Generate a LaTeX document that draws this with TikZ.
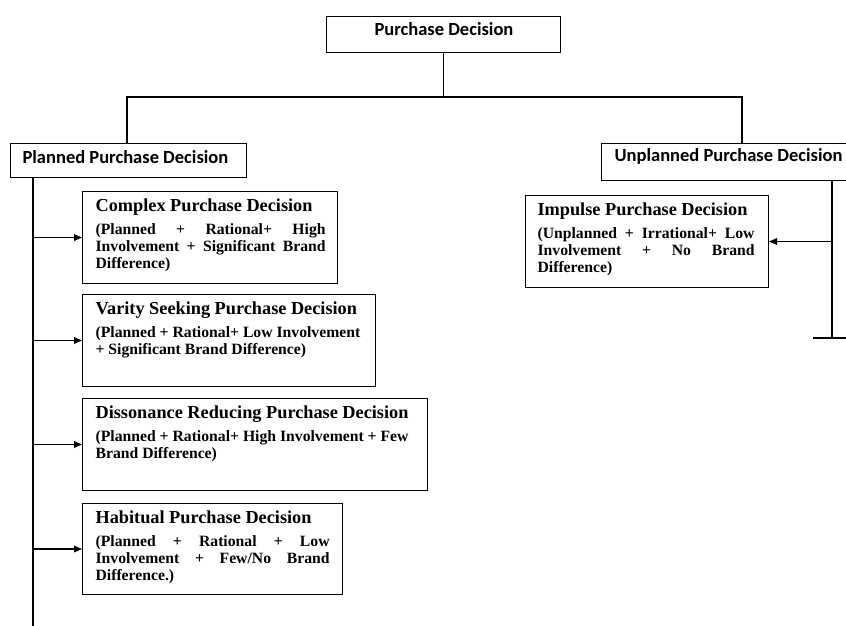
\documentclass[tikz,border=0pt]{standalone}
\usepackage{fontspec}
\setmainfont{Liberation Serif}
\newfontfamily\calibri{Carlito}
\usetikzlibrary{arrows.meta}
\tikzset{every edge/.style={draw, line width=1pt},
  >={Triangle[length=2.4mm,width=2mm]},
  box/.style={draw, line width=0.9pt, anchor=north west, inner sep=0pt},
  cal/.style={anchor=west, inner sep=0pt, font=\calibri\bfseries\fontsize{15.8}{18}\selectfont},
  desc/.style={anchor=north west, inner sep=0pt, align=justify,
    font=\bfseries\fontsize{13.4}{14.2}\selectfont}}
\newcommand{\hd}{\fontsize{15.6}{17}\selectfont}

\begin{document}
\begin{tikzpicture}[x=0.3mm, y=-0.3mm, line width=1pt]
  \useasboundingbox (0,0) rectangle (846,626);

  % top level
  \node[box, minimum width=70.2mm, minimum height=10.8mm] at (326, 16) (pd) {};
  \node[cal, anchor=center] at (444, 29) (pdt) {Purchase Decision};
  \node[box, minimum width=70.8mm, minimum height=10.2mm] at (10, 143) (ppd) {};
  \node[cal] at (22, 157) (ppdt) {Planned Purchase Decision};
  \node[box, minimum width=76.5mm, minimum height=11.1mm] at (601, 143) (upd) {};
  \node[cal] at (614, 156) (updt) {Unplanned Purchase Decision};

  \coordinate (bl) at (127, 97);
  \coordinate (br) at (742, 97);
  \draw (pd.south) -- (pd.south |- bl);
  \draw (ppd.north -| bl) -- (bl) -- (br) -- (upd.north -| br);

  % planned
  \node[box, minimum width=76.5mm, minimum height=27.6mm] at (82, 191) (cpd) {};
  \node[desc, text width=69mm] at ([shift={(13,7)}]cpd.north west) (cpdt)
    {{\hd Complex Purchase Decision}\\[6pt]
     (Planned + Rational+ High\linebreak Involvement + Significant Brand\linebreak Difference)};

  \node[box, minimum width=87.9mm, minimum height=27.6mm] at (82, 294) (vpd) {};
  \node[desc, text width=84mm] at ([shift={(13,7)}]vpd.north west) (vpdt)
    {{\hd Varity Seeking Purchase Decision}\\[6pt]
     (Planned + Rational+ Low Involvement\\ + Significant Brand Difference)};

  \node[box, minimum width=103.5mm, minimum height=27.6mm] at (82, 398) (dpd) {};
  \node[desc, text width=99mm] at ([shift={(13,7)}]dpd.north west) (dpdt)
    {{\hd Dissonance Reducing Purchase Decision}\\[6pt]
     (Planned + Rational+ High Involvement + Few\\ Brand Difference)};

  \node[box, minimum width=78mm, minimum height=27.3mm] at (82, 503) (hpd) {};
  \node[desc, text width=70.2mm] at ([shift={(13,7)}]hpd.north west) (hpdt)
    {{\hd Habitual Purchase Decision}\\[6pt]
     (Planned + Rational + Low\linebreak Involvement + Few/No Brand\linebreak Difference.)};

  \coordinate (lt) at (33, 626);
  \draw (ppd.south -| lt) -- (lt);
  \foreach \n in {cpd, vpd, dpd, hpd}
    \draw (\n.west -| lt) edge[->] (\n.west);

  % unplanned
  \node[box, minimum width=72.9mm, minimum height=27.6mm] at (525, 195) (ipd) {};
  \node[desc, text width=65.1mm] at ([shift={(12,7)}]ipd.north west) (ipdt)
    {{\hd Impulse Purchase Decision}\\[6pt]
     (Unplanned + Irrational+ Low\linebreak Involvement + No Brand\linebreak Difference)};

  \coordinate (rt) at (832, 338);
  \coordinate (rtl) at (813, 338);
  \coordinate (rtr) at (850, 338);
  \draw (upd.south -| rt) -- (rt);
  \draw (rtl) -- (rtr);
  \draw (ipd.east -| rt) edge[->] (ipd.east);
\end{tikzpicture}
\end{document}
